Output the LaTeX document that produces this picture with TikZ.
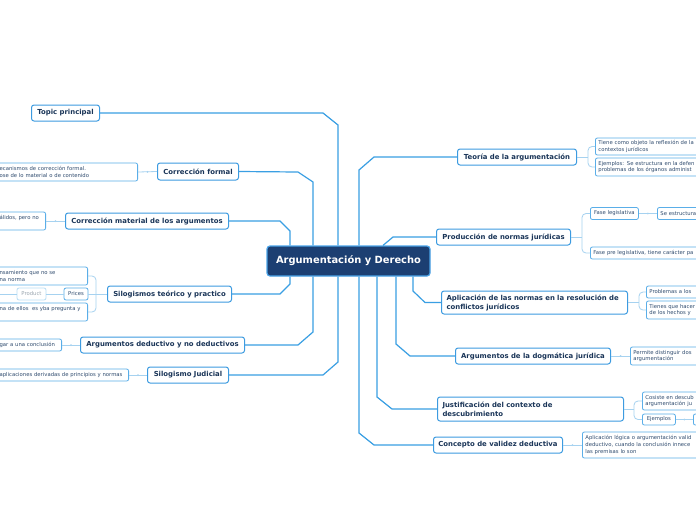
\documentclass[tikz,border=0pt]{standalone}
\usepackage{fontspec}
\setmainfont{DejaVu Sans}
\definecolor{mainfill}{HTML}{1C3F72}
\definecolor{mainborder}{HTML}{4AA3E8}
\definecolor{topicborder}{HTML}{3D9BE0}
\definecolor{branchcol}{HTML}{3A9FE3}
\definecolor{twigcol}{HTML}{A6D2F0}
\definecolor{subborder}{HTML}{5AAEE8}
\definecolor{topictext}{HTML}{1A3558}
\definecolor{subtext}{HTML}{2F4B6E}
\definecolor{prodborder}{HTML}{B9DDF5}
\definecolor{prodtext}{HTML}{9AA5AF}
\tikzset{
 mainbox/.style={draw=mainborder, fill=mainfill, line width=1.2pt, rounded corners=3pt, text=white, font=\bfseries\fontsize{9.9}{11}\selectfont, inner sep=0pt},
 topicbox/.style={draw=topicborder, fill=white, line width=1pt, rounded corners=2.5pt, text=topictext, font=\bfseries\fontsize{6.9}{9}\selectfont, inner sep=0pt},
 subbox/.style={draw=subborder, fill=white, line width=0.8pt, rounded corners=2pt, text=subtext, font=\fontsize{5.3}{6.6}\selectfont, inner ysep=0pt, inner xsep=3pt, align=left},
 smallbox/.style={draw=subborder, fill=white, line width=0.8pt, rounded corners=2pt, text=subtext, font=\fontsize{5.3}{6.6}\selectfont, inner sep=0pt},
 branch/.style={draw=branchcol, line width=1.2pt},
 twig/.style={draw=twigcol, line width=0.8pt},
 twigdot/.style={fill=twigcol, circle, inner sep=0pt, minimum size=2pt}
}
\begin{document}
\begin{tikzpicture}[x=1pt,y=-1pt]
\useasboundingbox (0,0) rectangle (696,520);
\fill[white] (0,0) rectangle (696,520);
\begin{scope}
\clip (0,0) rectangle (696,520);
% central
\node[mainbox, minimum width=163pt, minimum height=30pt] (main) at (348.5,261) {Argumentación y Derecho};
% left topics
\node[topicbox, minimum width=68pt, minimum height=16pt, anchor=west] (tp) at (31,113) {Topic principal};
\node[topicbox, minimum width=81pt, minimum height=17pt, anchor=west] (cf) at (157,171.5) {Corrección formal};
\node[topicbox, minimum width=163pt, minimum height=16pt, anchor=west] (cm) at (65,221) {Corrección material de los argumentos};
\node[topicbox, minimum width=124pt, minimum height=16pt, anchor=west] (st) at (107,294) {Silogismos teórico y practico};
\node[topicbox, minimum width=164pt, minimum height=16pt, anchor=west] (ad) at (80,345) {Argumentos deductivo y no deductivos};
\node[topicbox, minimum width=81pt, minimum height=16pt, anchor=west] (sj) at (147,375) {Silogismo Judicial};
% right topics
\node[topicbox, minimum width=119pt, minimum height=16pt, anchor=west] (ta) at (457,157) {Teoría de la argumentación};
\node[topicbox, minimum width=134pt, minimum height=16pt, anchor=west] (pn) at (436,237) {Producción de normas jurídicas};
\node[topicbox, text width=176pt, inner xsep=5pt, align=left, minimum height=23pt, anchor=west] (an) at (441,302.5) {Aplicación de las normas en la resolución de\\conflictos jurídicos};
\node[topicbox, minimum width=155pt, minimum height=16pt, anchor=west] (dj) at (455,356) {Argumentos de la dogmática jurídica};
\node[topicbox, text width=176pt, inner xsep=5pt, align=left, minimum height=24pt, anchor=west] (jc) at (437,409) {Justificación del contexto de\\descubrimiento};
\node[topicbox, minimum width=129pt, minimum height=16pt, anchor=west] (cv) at (433,445) {Concepto de validez deductiva};
% bend coordinates
\coordinate (k1) at (338,125);
\coordinate (k2) at (313,182);
\coordinate (k3) at (290,231);
\coordinate (k4) at (290,284);
\coordinate (k5) at (313,332);
\coordinate (k6) at (338,362);
\coordinate (r1) at (359,170);
\coordinate (r2) at (383,246);
\coordinate (r3) at (413,291);
\coordinate (r4) at (396,344);
\coordinate (r5) at (377,397);
\coordinate (r6) at (359,433);
% branches left
\draw[branch] (tp.east) -- (323,113) -- (k1) -- (k1 |- main.north);
\draw[branch] (cf.east) -- (298,172) -- (k2) -- (k2 |- main.north);
\draw[branch] (cm.east) -- (280,221) -- (k3) -- (k3 |- main.north);
\draw[branch] (st.east) -- (280,294) -- (k4) -- (k4 |- main.south);
\draw[branch] (ad.east) -- (298,345) -- (k5) -- (k5 |- main.south);
\draw[branch] (sj.east) -- (323,375) -- (k6) -- (k6 |- main.south);
% branches right
\draw[branch] (ta.west) -- (374,157) -- (r1) -- (r1 |- main.north);
\draw[branch] (pn.west) -- (393,237) -- (r2 |- main.north);
\draw[branch] (an.west) -- (425,302.5) -- (r3) -- (r3 |- main.south);
\draw[branch] (dj.west) -- (410,356) -- (r4) -- (r4 |- main.south);
\draw[branch] (jc.west) -- (392,409) -- (r5) -- (r5 |- main.south);
\draw[branch] (cv.west) -- (374,445) -- (r6) -- (r6 |- main.south);
% left sub nodes
\node[subbox, anchor=east, text width=135pt, minimum height=18pt] (cf1) at (138,172) {ecanismos de corrección formal.\\ose de lo material o de contenido};
\node[subbox, anchor=east, text width=43pt, minimum height=18pt] (cm1) at (46,221) {álidos, pero no\\~};
\node[subbox, anchor=east, text width=85pt, minimum height=18pt] (st1) at (88,276) {nsamiento que no se\\na norma};
\node[smallbox, minimum width=24pt, minimum height=12pt] (pr) at (76,294) {Prices};
\node[smallbox, draw=prodborder, text=prodtext, minimum width=29pt, minimum height=12pt] (pd) at (31.5,294) {Product};
\node[subbox, anchor=east, text width=85pt, minimum height=18pt] (st3) at (88,312) {na de ellos\ \ es yba pregunta y\\~};
\node[subbox, anchor=east, text width=59pt, minimum height=12pt] (ad1) at (62,345) {gar a una conclusión};
\node[subbox, anchor=east, text width=126pt, minimum height=12pt] (sj1) at (129,375) {aplicaciones derivadas de principios y normas};
\coordinate (j5) at (96,294);
\coordinate (lx) at (-5,294);
\draw[twig] (cf1.east) -- node[twigdot] (d1) {} (cf.west);
\draw[twig] (cm1.east) -- node[twigdot] (d2) {} (cm.west);
\draw[twig] (st.west) -- (pr.east);
\draw[twig, rounded corners=4pt] (st1.east) -| (j5) |- (st3.east);
\draw[twig] (pr.west) -- (pd.east);
\draw[twig] (pd.west) -- (lx);
\draw[twig] (ad1.east) -- node[twigdot] (d3) {} (ad.west);
\draw[twig] (sj1.east) -- node[twigdot] (d4) {} (sj.west);
% right sub nodes
\node[subbox, anchor=west, text width=119pt, minimum height=17pt] (ta1) at (595,146.5) {Tiene como objeto la reflexión de la\\contextos jurídicos};
\node[subbox, anchor=west, text width=119pt, minimum height=18pt] (ta2) at (595,167) {Ejemplos: Se estructura en la defen\\problemas de los órganos administ};
\node[smallbox, minimum width=48pt, minimum height=12pt, anchor=west] (pn1) at (590,213.5) {Fase legislativa};
\node[subbox, anchor=west, text width=57pt, minimum height=12pt] (pn1b) at (657,213.5) {Se estructura};
\node[subbox, anchor=west, text width=124pt, minimum height=12pt] (pn2) at (590,253) {Fase pre legislativa, tiene carácter pa};
\node[subbox, anchor=west, text width=68pt, minimum height=12pt] (an1) at (646,292) {Problemas a los};
\node[subbox, anchor=west, text width=68pt, minimum height=18pt] (an2) at (646,310) {Tienes que hacer\\de los hechos y};
\node[subbox, anchor=west, text width=84pt, minimum height=18pt] (dj1) at (630,356) {Permite distinguir dos\\argumentación};
\node[subbox, anchor=west, text width=72pt, minimum height=18pt] (jc1) at (642,401) {Cosiste en descub\\argumentación ju};
\node[smallbox, minimum width=33pt, minimum height=11pt, anchor=west] (jc2) at (642,419.5) {Ejemplos};
\node[smallbox, minimum width=27pt, minimum height=11pt, anchor=west] (jc2b) at (693,419.5) {};
\node[subbox, anchor=west, text width=132pt, minimum height=26pt] (cv1) at (582,445) {Aplicación lógica o argumentación valid\\deductivo, cuando la conclusión innece\\las premisas lo son};
\coordinate (j1) at (588,157);
\coordinate (j2) at (582,237);
\coordinate (j3) at (639,302.5);
\coordinate (j4) at (634,409);
\draw[twig] (ta.east) -- (j1);
\draw[twig, rounded corners=4pt] (ta1.west) -| (j1) |- (ta2.west);
\draw[twig] (pn.east) -- (j2);
\draw[twig, rounded corners=4pt] (pn1.west) -| (j2) |- (pn2.west);
\draw[twig] (pn1.east) -- node[twigdot] (d5) {} (pn1b.west);
\draw[twig] (an.east) -- (j3);
\draw[twig, rounded corners=4pt] (an1.west) -| (j3) |- (an2.west);
\draw[twig] (dj.east) -- node[twigdot] (d6) {} (dj1.west);
\draw[twig] (jc.east) -- (j4);
\draw[twig, rounded corners=4pt] (jc1.west) -| (j4) |- (jc2.west);
\draw[twig] (jc2.east) -- node[twigdot] (d7) {} (jc2b.west);
\draw[twig] (cv.east) -- node[twigdot] (d8) {} (cv1.west);
\end{scope}
\end{tikzpicture}
\end{document}
